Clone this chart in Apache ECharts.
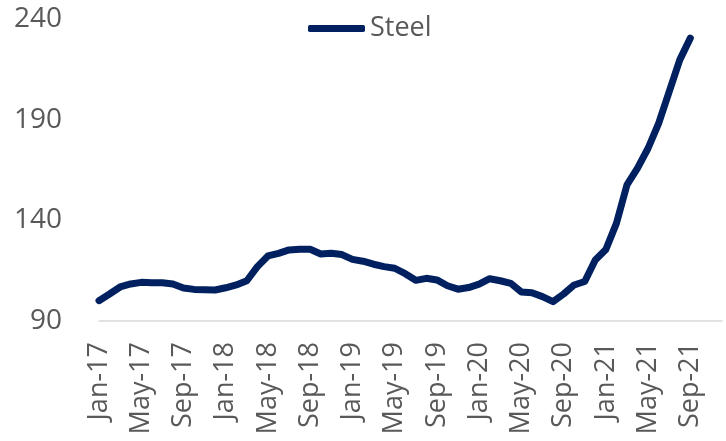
<!DOCTYPE html>
<html>
<head>
<meta charset="utf-8">
<script src="https://cdn.jsdelivr.net/npm/echarts@6/dist/echarts.min.js"></script>
<style>
    html, body { margin: 0; padding: 0; background: #fff; }
    .chart { width: 726px; height: 441px; }
</style>
</head>
<body>
<div class="chart"></div>
<script>
// 月份类目（轴一直画到 Dec-21）
var months = [
    "Jan-17", "Feb-17", "Mar-17", "Apr-17", "May-17", "Jun-17", "Jul-17", "Aug-17", "Sep-17", "Oct-17", "Nov-17", "Dec-17",
    "Jan-18", "Feb-18", "Mar-18", "Apr-18", "May-18", "Jun-18", "Jul-18", "Aug-18", "Sep-18", "Oct-18", "Nov-18", "Dec-18",
    "Jan-19", "Feb-19", "Mar-19", "Apr-19", "May-19", "Jun-19", "Jul-19", "Aug-19", "Sep-19", "Oct-19", "Nov-19", "Dec-19",
    "Jan-20", "Feb-20", "Mar-20", "Apr-20", "May-20", "Jun-20", "Jul-20", "Aug-20", "Sep-20", "Oct-20", "Nov-20", "Dec-20",
    "Jan-21", "Feb-21", "Mar-21", "Apr-21", "May-21", "Jun-21", "Jul-21", "Aug-21", "Sep-21", "Oct-21", "Nov-21", "Dec-21"
];
// Steel 指数 Jan-17 ~ Sep-21
var steel = [
    100.1, 103.4, 106.9, 108.4, 109.2, 109.0, 109.0, 108.4, 106.4, 105.7, 105.5, 105.4,
    106.5, 107.9, 110.0, 117.0, 122.3, 123.6, 125.3, 125.6, 125.6, 123.3, 123.6, 123.0,
    120.6, 119.7, 118.2, 117.0, 116.2, 113.5, 110.2, 111.2, 110.4, 107.5, 105.8, 106.6,
    108.3, 111.0, 110.0, 108.7, 104.4, 104.0, 102.1, 99.6, 103.4, 107.9, 109.6, 120.3,
    125.5, 138.5, 157.6, 165.9, 175.8, 188.2, 203.9, 219.7, 230.5
];
var yTicks = { min: 90, max: 240, step: 50 };

(function() {
    var textColor = "#595959";
    var font = "Open Sans";
    var myChart = echarts.init(document.querySelector(".chart"));
    var option = {
        animation: false,
        legend: {
            data: ["Steel"],
            left: 303,
            top: 10,
            icon: "roundRect",
            itemWidth: 57,
            itemHeight: 7,
            textStyle: {
                color: textColor,
                fontFamily: font,
                fontSize: 27
            }
        },
        grid: {
            left: 99,
            right: 4,
            top: 19,
            bottom: 120
        },
        xAxis: {
            type: "category",
            data: months,
            boundaryGap: false,
            axisTick: { show: false },
            axisLine: {
                lineStyle: { color: "#d9d9d9", width: 1.5 }
            },
            axisLabel: {
                interval: 3,
                rotate: 90,
                margin: 21,
                color: textColor,
                fontFamily: font,
                fontSize: 27
            }
        },
        yAxis: {
            type: "value",
            min: yTicks.min,
            max: yTicks.max,
            interval: yTicks.step,
            axisLine: { show: false },
            axisTick: { show: false },
            splitLine: { show: false },
            axisLabel: {
                margin: 37,
                color: textColor,
                fontFamily: font,
                fontSize: 28
            }
        },
        series: [{
            name: "Steel",
            type: "line",
            data: steel,
            symbol: "none",
            color: "#002060",
            lineStyle: {
                color: "#002060",
                width: 7,
                cap: "round",
                join: "round"
            }
        }]
    };
    myChart.setOption(option);
})();
</script>
</body>
</html>
